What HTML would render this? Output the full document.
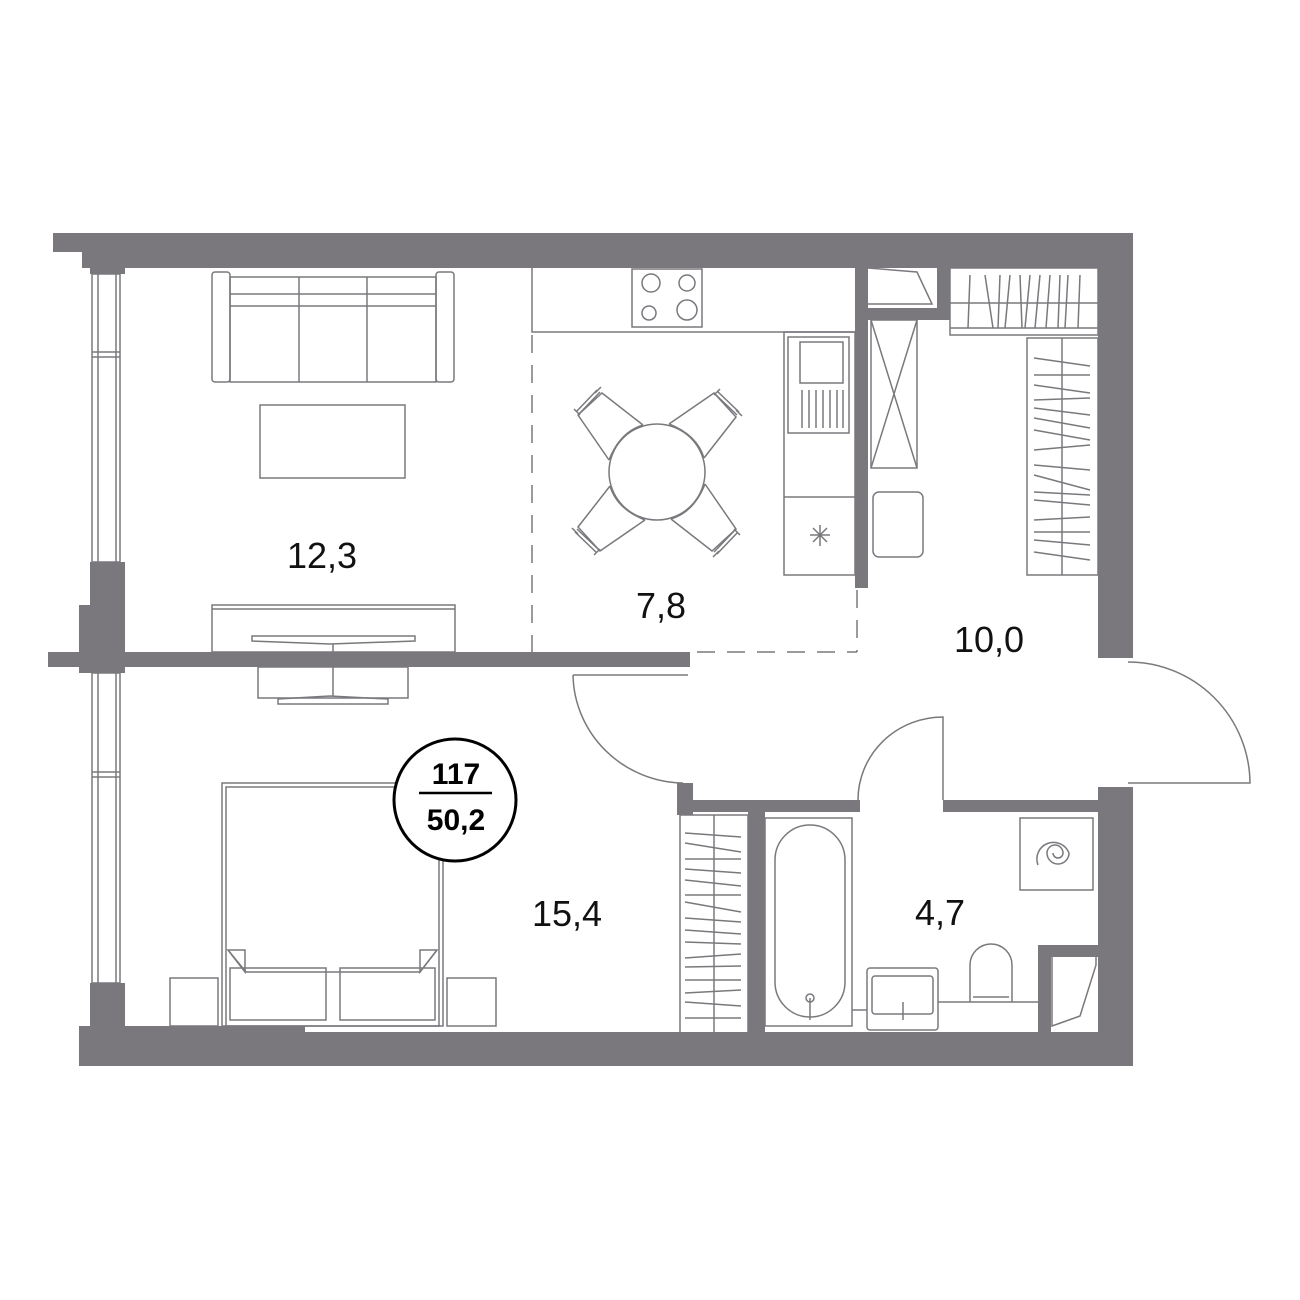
<!DOCTYPE html>
<html><head><meta charset="utf-8"><style>
html,body{margin:0;padding:0;background:#fff}
svg{display:block}
text{font-family:"Liberation Sans",sans-serif}
</style></head><body>
<svg width="1300" height="1300" viewBox="0 0 1300 1300" xmlns="http://www.w3.org/2000/svg">
<g fill="#7a787d">
<rect x="82" y="233" width="1051" height="35"/>
<rect x="53" y="233" width="30" height="19"/>
<rect x="1098" y="233" width="35" height="425"/>
<rect x="1098" y="787" width="35" height="279"/>
<rect x="90" y="268" width="35" height="6"/>
<rect x="90" y="562" width="35" height="45"/>
<rect x="79" y="605" width="46" height="68"/>
<rect x="48" y="652" width="642" height="15"/>
<rect x="90" y="983" width="35" height="45"/>
<rect x="79" y="1032" width="1054" height="34"/>
<rect x="79" y="1026" width="226" height="7"/>
<rect x="677" y="783" width="16" height="32"/>
<rect x="677" y="800" width="183" height="12"/>
<rect x="943" y="800" width="155" height="12"/>
<rect x="748" y="812" width="17" height="221"/>
<rect x="1038" y="945" width="60" height="12"/>
<rect x="1038" y="945" width="13" height="88"/>
<rect x="855" y="268" width="13" height="320"/>
<rect x="855" y="308" width="95" height="12"/>
<rect x="937" y="268" width="13" height="52"/>
</g>
<g fill="none" stroke="#7a787d" stroke-width="1.5">
<rect x="92" y="274" width="28" height="288"/>
<line x1="98" y1="274" x2="98" y2="562"/><line x1="116" y1="274" x2="116" y2="562"/>
<line x1="92" y1="352" x2="120" y2="352"/><line x1="92" y1="357" x2="120" y2="357"/>
<rect x="92" y="673" width="28" height="310"/>
<line x1="98" y1="673" x2="98" y2="983"/><line x1="116" y1="673" x2="116" y2="983"/>
<line x1="92" y1="772" x2="120" y2="772"/><line x1="92" y1="777" x2="120" y2="777"/>
<g stroke-dasharray="18,12">
<line x1="532" y1="335" x2="532" y2="652"/>
<line x1="697" y1="652" x2="857" y2="652"/>
<line x1="857" y1="590" x2="857" y2="652"/>
</g>
<path d="M573,675 L688,675 M573,675 A112,110 0 0 0 683,783"/>
<path d="M943,800 L943,717 A85,83 0 0 0 858,800"/>
<path d="M1128,783 L1250,783 A122,122 0 0 0 1128,662"/>
<rect x="212" y="272" width="18" height="110" rx="3"/>
<rect x="436" y="272" width="18" height="110" rx="3"/>
<rect x="230" y="277" width="206" height="105"/>
<line x1="230" y1="294" x2="436" y2="294"/><line x1="230" y1="306" x2="436" y2="306"/>
<line x1="299" y1="277" x2="299" y2="382"/><line x1="367" y1="277" x2="367" y2="382"/>
<rect x="260" y="405" width="145" height="73"/>
<rect x="212" y="605" width="243" height="47"/>
<line x1="212" y1="609" x2="455" y2="609"/>
<path d="M252,636 L415,636 L415,641 L330,644 L252,641 Z"/>
<line x1="333" y1="644" x2="333" y2="652"/>
<rect x="258" y="667" width="150" height="31"/>
<path d="M278,704 L388,704 L388,699 L330,696 L278,699 Z"/>
<line x1="333" y1="667" x2="333" y2="696"/>
<path d="M532,268 L532,332 L855,332"/>
<rect x="632" y="269" width="70" height="58"/>
<circle cx="651" cy="283" r="9"/><circle cx="687" cy="283" r="8"/>
<circle cx="649" cy="313" r="7"/><circle cx="687" cy="310" r="10"/>
<rect x="784" y="332" width="71" height="243"/>
<line x1="784" y1="497" x2="855" y2="497"/>
<rect x="788" y="337" width="61" height="96"/>
<rect x="800" y="342" width="43" height="41"/>
<g><line x1="802" y1="390" x2="802" y2="428"/><line x1="809" y1="390" x2="809" y2="428"/><line x1="816" y1="390" x2="816" y2="428"/><line x1="823" y1="390" x2="823" y2="428"/><line x1="830" y1="390" x2="830" y2="428"/><line x1="837" y1="390" x2="837" y2="428"/><line x1="843" y1="390" x2="843" y2="428"/></g>
<path d="M820,525 L820,546 M810,535 L830,535 M813,528 L827,542 M827,528 L813,542"/>
<circle cx="657" cy="472" r="48"/>
<g id="ch">
<path d="M643,425 L602,393 L578,415 L609,460"/>
<path d="M643,425 Q620,432 609,460"/>
<path d="M597,390 L576,412 M600,392 L579,414 M595,393 L601,387 M574,409 L580,415"/>
</g>
<use href="#ch" transform="rotate(90 657 472)"/>
<use href="#ch" transform="rotate(180 657 472)"/>
<use href="#ch" transform="rotate(270 657 472)"/>
<rect x="871" y="320" width="46" height="148"/>
<path d="M871,320 L917,468 M917,320 L871,468"/>
<rect x="873" y="492" width="50" height="65" rx="6"/>
<path d="M868,268 L917,272 L932,304 L868,304"/>
<rect x="950" y="268" width="148" height="67"/>
<line x1="950" y1="303" x2="1098" y2="303"/>
<line x1="950" y1="328" x2="1098" y2="328"/>
<g><path d="M970,275 L968,328 M985,275 L993,328 M1000,275 L998,328 M1010,275 L1005,328 M1020,275 L1022,328 M1030,275 L1025,328 M1040,275 L1035,328 M1050,275 L1046,328 M1060,275 L1058,328 M1068,275 L1065,328 M1080,275 L1078,328"/></g>
<rect x="1027" y="338" width="71" height="237"/>
<line x1="1062" y1="338" x2="1062" y2="575"/>
<g><path d="M1034,358 L1090,366 M1034,375 L1090,375 M1034,385 L1090,393 M1034,400 L1090,398 M1034,408 L1090,415 M1034,418 L1090,428 M1034,430 L1090,440 M1034,450 L1090,445 M1034,465 L1090,470 M1034,475 L1090,490 M1034,492 L1090,495 M1034,500 L1090,505 M1034,520 L1090,517 M1034,532 L1090,532 M1034,540 L1090,545 M1034,552 L1090,560"/></g>
<rect x="222" y="783" width="221" height="243"/>
<rect x="226" y="787" width="213" height="239"/>
<path d="M228,950 L245,950 L245,972 Z M437,950 L420,950 L420,972 Z"/>
<path d="M228,950 L246,972 L420,972 L437,950"/>
<rect x="230" y="968" width="96" height="52"/>
<rect x="340" y="968" width="95" height="52"/>
<rect x="170" y="978" width="48" height="48"/>
<rect x="447" y="978" width="49" height="48"/>
<rect x="680" y="815" width="68" height="218"/>
<line x1="714" y1="815" x2="714" y2="1033"/>
<g><path d="M685,833 L741,837 M685,843 L741,852 M685,859 L741,859 M685,869 L741,873 M685,880 L741,886 M685,895 L741,895 M685,902 L741,912 M685,918 L741,922 M685,930 L741,934 M685,942 L741,944 M685,958 L741,954 M685,967 L741,966 M685,980 L741,980 M685,993 L741,990 M685,1002 L741,1006 M685,1018 L741,1018"/></g>
<rect x="765" y="818" width="87" height="208"/>
<rect x="775" y="825" width="70" height="192" rx="35"/>
<line x1="810" y1="998" x2="810" y2="1020"/>
<circle cx="810" cy="998" r="4"/>
<rect x="867" y="968" width="71" height="62" rx="3"/>
<rect x="872" y="976" width="61" height="38" rx="3"/>
<line x1="903" y1="1002" x2="903" y2="1020"/>
<line x1="852" y1="1010" x2="867" y2="1010"/>
<line x1="938" y1="1002" x2="1038" y2="1002"/>
<path d="M970,1002 L970,965 A21,21 0 0 1 1012,965 L1012,1002"/>
<path d="M973,997 L1009,997"/>
<rect x="1020" y="818" width="73" height="72"/>
<path d="M1038,865 A14,14 0 1 1 1069,853 A11,11 0 0 1 1047,853 A8,8 0 0 1 1063,853 A5,5 0 0 1 1053,853"/>
<path d="M1052,957 L1052,1026 L1080,1016 L1096,965 L1096,957"/>
</g>
<g fill="#111" font-size="36">
<text x="322" y="568" text-anchor="middle">12,3</text>
<text x="661" y="618" text-anchor="middle">7,8</text>
<text x="989" y="652" text-anchor="middle">10,0</text>
<text x="567" y="926" text-anchor="middle">15,4</text>
<text x="940" y="925" text-anchor="middle">4,7</text>
</g>
<circle cx="455" cy="800" r="61" fill="#fff" stroke="#000" stroke-width="3"/>
<line x1="419" y1="793" x2="492" y2="793" stroke="#000" stroke-width="2.5"/>
<text x="456" y="784" text-anchor="middle" font-size="30" font-weight="bold" fill="#000">117</text>
<text x="456" y="830" text-anchor="middle" font-size="30" font-weight="bold" fill="#000">50,2</text>
</svg>
</body></html>
